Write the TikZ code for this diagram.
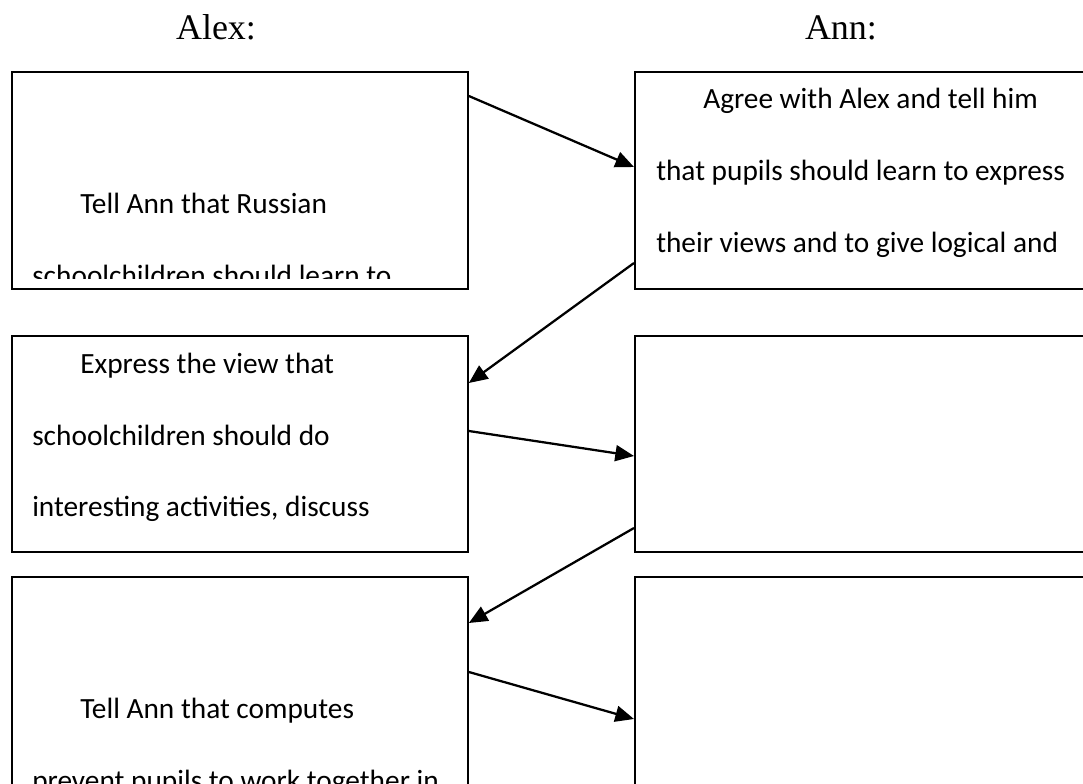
\documentclass[tikz,border=0pt]{standalone}
\usepackage{fontspec}
\setmainfont{Liberation Serif}
\newfontfamily\bodyfont{Carlito}
\usetikzlibrary{arrows.meta,calc}

\begin{document}
\begin{tikzpicture}[x=0.75pt,y=-0.75pt,
    box/.style={draw,line width=1.4pt,anchor=north west,minimum width=342pt,inner sep=0pt},
    annbox/.style={box,minimum width=375pt},
    line/.style={anchor=base west,inner sep=0pt,font=\bodyfont\fontsize{22}{26}\selectfont},
    who/.style={anchor=base,inner sep=0pt,font=\fontsize{27}{30}\selectfont},
    link/.style={line width=1.7pt,-{Triangle[length=14pt,width=12pt]}}]
    \clip (0,0) rectangle (1083,784);
    \node[who] (alex) at (216,40) {Alex:};
    \node[who] (ann) at (841,40) {Ann:};
    % boxes
    \node[box,minimum height=162.75pt] (alexA) at (11,71) {};
    \node[box,minimum height=162pt] (alexB) at (11,335) {};
    \node[box,minimum height=200pt] (alexC) at (11,576) {};
    \node[annbox,minimum height=162.75pt] (annA) at (634,71) {};
    \node[annbox,minimum height=162pt] (annB) at (634,335) {};
    \node[annbox,minimum height=200pt] (annC) at (634,576) {};
    % texts
    \begin{scope}
      \clip (alexA.north west) rectangle ($(alexA.south east)+(0,-11)$);
      \node[line] (alexA1) at (80,214) {Tell Ann that Russian};
      \node[line] (alexA2) at (32,286) {schoolchildren should learn to};
    \end{scope}
    \node[line] (annA1) at (703,109) {Agree with Alex and tell him};
    \node[line] (annA2) at (656,181) {that pupils should learn to express};
    \node[line] (annA3) at (656,253) {their views and to give logical and};
    \node[line] (alexB1) at (80,374) {Express the view that};
    \node[line] (alexB2) at (32,446) {schoolchildren should do};
    \node[line] (alexB3) at (32,517) {interesting activities, discuss};
    \node[line] (alexC1) at (80,718) {Tell Ann that computes};
    \node[line] (alexC2) at (32,790) {prevent pupils to work together in};
    % arrows
    \draw[link] ($(alexA.north east)+(0,25)$) -- ($(annA.north west)+(0,96)$);
    \draw[link] ($(annA.north west)+(0,192)$) -- ($(alexB.north east)+(0,48)$);
    \draw[link] ($(alexB.north east)+(0,96)$) -- ($(annB.north west)+(0,121)$);
    \draw[link] ($(annB.north west)+(0,193)$) -- ($(alexC.north east)+(0,47)$);
    \draw[link] ($(alexC.north east)+(0,96)$) -- ($(annC.north west)+(0,143)$);
  \end{tikzpicture}
\end{document}
